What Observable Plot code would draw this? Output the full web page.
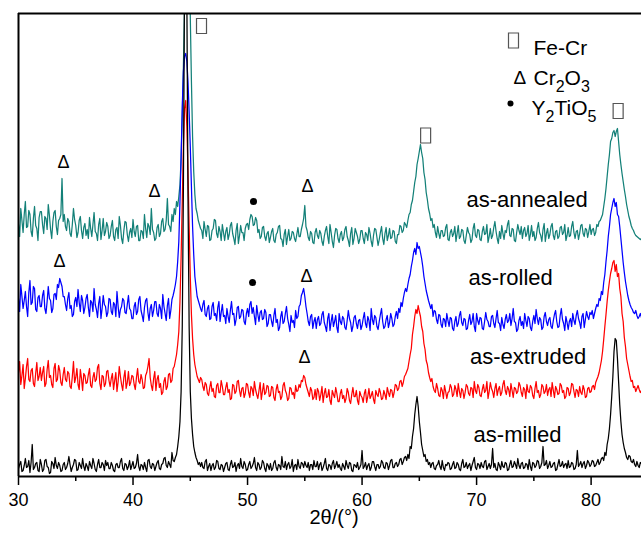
<!DOCTYPE html>
<html><head><meta charset="utf-8">
<script src="https://cdn.jsdelivr.net/npm/d3@7"></script>
<script src="https://cdn.jsdelivr.net/npm/@observablehq/plot@0.6"></script>
<style>body{margin:0;background:#fff}#chart svg{display:block}</style>
</head><body><div id="chart"></div>
<script>
// XRD scan grid (2θ, degrees)
const scanStart = 30, scanStep = 0.1, scanCount = 545;

// intensities (arbitrary units, offset patterns), one value per scan step
const milled = [
8,12,15,5,6,11,18,9,10,16,4,14,32,7,9,13,14,6,5,17,
12,5,7,16,17,10,9,3,4,15,13,8,19,11,8,14,11,5,6,12,
14,7,9,13,20,12,5,9,12,17,16,6,7,14,11,8,18,10,6,13,
10,6,15,11,8,18,13,7,5,12,17,9,9,14,12,6,16,11,14,8,
8,14,11,6,5,12,13,9,9,15,18,8,6,13,12,7,10,16,7,11,
15,8,9,13,22,10,6,12,11,7,14,9,5,16,17,10,8,13,12,6,
10,14,16,8,7,12,13,18,19,11,9,15,12,9,24,16,15,19,22,30,
40,55,85,150,290,500,620,480,280,150,85,58,42,30,24,19,16,12,14,10,
14,9,8,15,17,6,10,13,6,11,13,7,9,16,15,8,7,12,11,5,
9,13,14,7,6,12,16,9,10,14,5,11,13,8,18,10,8,15,12,6,
7,12,15,8,10,13,19,9,6,14,12,7,9,16,14,8,5,13,11,7,
13,6,8,14,16,9,6,12,11,7,20,10,9,15,7,12,14,8,10,17,
5,11,12,7,17,10,8,14,13,9,15,11,9,14,6,12,12,7,16,10,
10,15,7,12,14,6,9,13,18,8,6,12,11,7,13,16,8,11,15,9,
12,8,6,13,10,7,16,11,8,14,13,6,5,12,11,9,14,7,9,12,
26,8,10,14,7,11,13,6,9,15,15,10,6,12,12,8,10,16,14,9,
8,14,13,7,11,16,17,9,9,13,14,10,12,17,18,12,15,19,20,16,
22,18,30,28,40,48,62,72,80,70,55,44,32,26,20,22,15,17,12,14,
9,13,14,8,7,11,12,16,10,7,16,9,6,12,11,14,13,7,8,12,
15,8,9,14,12,7,6,13,17,9,10,14,8,11,13,6,11,15,19,9,
7,13,12,8,14,10,9,15,16,7,10,13,8,12,28,9,13,7,6,14,
11,7,15,10,9,14,13,6,7,12,16,9,10,15,12,8,18,11,8,13,
14,8,9,13,12,7,17,10,6,14,13,9,11,16,15,8,10,14,30,11,
12,16,8,11,15,9,10,13,14,6,7,12,17,10,11,15,9,12,13,8,
16,9,10,14,13,7,8,12,26,10,12,15,9,13,15,8,11,16,14,10,
12,16,15,10,11,14,17,12,14,18,19,16,24,21,32,38,48,62,80,100,
125,138,136,118,95,72,55,42,34,28,24,19,17,21,20,15,14,17,12,10,
15,11,9,14,13];

const extruded = [
104,115,92,101,112,88,98,110,118,97,95,106,108,93,90,103,114,96,100,109,
96,104,110,90,93,107,116,99,101,92,89,108,113,95,97,111,106,94,91,102,
109,97,95,105,103,90,88,100,115,94,99,108,92,87,107,98,86,103,101,93,
94,102,108,91,89,99,104,95,97,109,112,93,87,101,100,90,93,105,106,96,
90,98,103,87,96,104,85,95,110,100,92,86,99,106,88,94,105,91,94,101,
100,92,87,99,108,95,93,102,97,88,89,101,104,110,118,99,91,86,98,105,
86,97,101,89,93,82,84,95,99,87,90,102,103,94,96,108,110,116,122,132,
145,175,220,275,330,368,376,350,305,250,200,162,138,122,112,106,100,97,94,99,
97,90,86,94,92,83,81,89,95,85,88,80,79,91,93,84,84,96,90,82,
82,89,94,84,87,77,78,92,91,83,85,95,96,86,80,88,89,79,83,93,
92,84,79,90,88,81,95,87,82,78,86,94,77,85,93,82,84,91,90,80,
81,90,89,79,76,87,92,84,85,77,80,91,94,86,83,76,78,89,88,82,
84,78,91,85,86,92,89,96,95,101,99,92,88,84,80,89,86,77,79,87,
77,88,85,76,82,90,74,83,88,79,80,87,76,72,86,82,79,89,83,75,
75,83,87,78,81,74,78,88,84,76,73,82,89,80,80,86,76,72,85,81,
79,74,83,87,74,80,88,78,81,85,77,73,86,82,80,88,84,77,78,86,
82,77,89,84,80,87,86,79,84,92,91,86,88,95,96,90,94,100,102,105,
108,115,122,128,142,150,160,167,163,171,165,160,150,145,133,127,116,112,104,99,
95,98,90,86,84,93,88,81,80,89,86,78,91,85,78,84,85,92,89,80,
82,91,87,80,93,85,79,88,86,78,84,92,90,83,81,89,88,79,95,86,
83,92,89,81,80,87,92,84,86,95,78,85,94,88,85,79,88,93,81,87,
90,81,84,92,96,86,82,90,87,80,93,86,79,89,88,83,85,94,91,84,
80,89,87,78,92,85,84,91,89,81,78,88,95,84,86,79,82,92,90,83,
85,92,81,87,89,80,94,86,79,90,87,82,83,93,91,84,86,78,80,89,
88,81,84,93,92,85,79,87,86,80,90,84,82,91,87,79,80,88,89,84,
85,90,91,87,94,97,100,104,110,116,125,137,150,162,175,186,195,203,208,214,
216,205,212,200,203,188,180,163,155,139,130,118,112,106,100,95,96,89,90,85,
88,91,87,84,86];

const rolled = [
178,165,192,180,168,176,185,170,160,184,196,172,174,190,188,167,165,179,181,170,
170,181,186,168,163,175,190,178,176,164,168,182,183,177,192,189,198,194,190,180,
180,172,166,178,184,168,171,160,162,175,179,170,187,174,165,181,176,163,169,178,
182,169,160,176,174,165,188,172,167,159,173,180,158,168,181,172,170,160,164,178,
177,165,162,174,172,160,185,170,159,167,170,178,176,164,163,172,181,168,166,158,
158,170,174,162,165,177,180,166,161,155,169,176,178,164,156,168,172,160,166,175,
175,163,160,172,168,158,182,170,163,156,171,178,158,166,177,181,186,192,200,215,
235,275,320,370,405,420,423,415,395,365,330,290,250,222,200,190,180,176,172,168,
165,172,176,162,160,168,171,157,158,170,174,161,163,156,169,175,155,164,172,160,
161,153,168,160,154,166,175,162,163,151,157,169,170,158,160,167,166,155,152,163,
168,160,172,175,163,169,160,152,171,162,155,164,166,157,158,167,164,150,153,162,
162,155,150,161,168,154,157,146,149,160,165,153,155,163,170,158,152,145,161,154,
156,149,166,158,160,170,172,181,184,188,180,170,163,155,151,160,162,148,155,159,
148,157,160,151,153,162,165,154,150,145,158,163,146,155,162,150,155,161,149,144,
163,155,152,160,158,149,147,156,166,158,154,145,150,159,161,153,148,156,157,147,
151,158,164,153,149,160,156,146,168,157,152,161,159,150,147,155,162,168,155,148,
150,157,161,149,154,163,158,150,152,160,165,158,168,164,174,170,178,184,188,185,
192,198,202,210,216,224,228,222,234,228,230,224,218,210,200,193,186,181,176,172,
168,172,160,166,165,157,153,162,161,152,149,158,157,150,163,156,150,159,158,148,
146,155,160,150,153,161,165,154,151,158,157,147,148,156,162,152,155,163,150,145,
163,156,152,159,158,148,147,155,164,157,155,150,150,160,161,153,149,158,166,154,
153,146,159,152,148,157,162,154,156,163,151,158,168,155,154,145,147,156,160,151,
155,148,163,156,150,160,158,149,146,155,161,153,167,158,152,159,157,147,149,160,
164,155,151,157,159,150,148,156,162,166,155,149,150,161,168,157,153,146,160,154,
147,155,158,150,163,156,152,161,166,158,154,148,160,163,149,157,165,160,157,164,
162,166,158,163,168,172,170,178,176,185,182,194,202,215,226,240,250,262,268,274,
278,270,274,262,260,250,238,226,214,204,195,188,181,176,172,169,167,164,163,166,
161,158,160,163,159];

const annealed = [
252,240,268,256,244,262,275,249,250,266,262,245,240,258,270,251,248,236,259,265,
265,252,243,260,258,247,272,261,247,238,255,264,266,250,242,256,258,262,298,255,
262,250,246,258,255,243,240,252,268,257,251,239,244,256,260,246,238,249,253,241,
247,238,259,248,240,252,264,245,243,236,252,258,237,246,258,241,245,254,250,238,
241,250,256,240,236,247,249,238,260,251,238,233,246,255,254,242,235,244,248,239,
257,245,240,250,251,236,236,246,245,238,262,248,239,253,250,242,268,247,244,236,
238,249,252,240,243,255,258,245,247,256,278,252,250,245,262,255,268,262,275,270,
280,292,318,360,410,470,520,560,570,530,460,395,340,305,282,268,263,256,252,248,
246,238,255,247,240,251,250,236,237,246,248,257,256,243,239,250,245,236,252,244,
236,245,249,237,242,251,254,243,238,232,246,253,233,241,251,244,244,236,248,252,
253,247,257,262,260,251,252,259,256,244,247,238,240,249,250,240,236,243,245,234,
239,245,248,236,234,242,244,250,251,238,237,230,242,247,232,240,247,236,238,245,
244,238,235,242,249,240,240,247,252,258,271,250,246,239,236,245,243,234,233,244,
248,241,238,246,243,235,231,240,246,250,240,233,252,244,235,229,241,248,247,238,
234,242,245,236,239,247,250,240,236,230,243,249,232,238,248,244,240,233,237,246,
246,238,233,244,242,236,249,243,235,230,241,248,247,239,231,237,244,250,238,232,
243,249,236,241,248,238,239,246,245,235,233,242,242,251,250,244,246,254,252,249,
256,262,264,272,276,285,294,300,312,318,325,332,324,318,304,297,284,277,268,263,
256,258,249,252,244,239,250,243,238,246,246,240,241,249,252,237,236,244,247,240,
243,250,235,243,251,238,240,247,246,236,233,241,249,244,242,234,237,248,253,241,
239,247,246,237,236,245,250,242,243,252,234,240,248,238,241,249,255,245,238,233,
245,238,251,243,237,246,244,252,256,241,240,248,247,236,235,244,252,246,242,250,
238,246,249,240,243,251,236,242,251,240,245,236,239,248,254,244,241,235,247,253,
235,243,248,238,242,250,253,241,237,245,246,238,240,249,250,242,244,252,236,241,
249,240,241,250,255,244,238,245,246,237,243,251,252,243,240,248,247,239,245,252,
242,247,248,241,244,252,250,255,256,259,262,270,278,288,300,312,322,335,338,344,
346,340,345,348,335,322,312,303,295,287,280,272,266,260,256,251,248,246,243,241,
240,239,238,237,238];

const seriesNames = ["as-annealed", "as-rolled", "as-extruded", "as-milled"];
const seriesColors = ["#138078", "#0000ff", "#ff0000", "#000000"];
const seriesValues = [annealed, rolled, extruded, milled];
const labelX = [74.41, 72.97, 74.5, 73.58];
const labelY = [276.5, 199, 120, 41.5];

// phase markers (2θ, intensity level)
const feCrX = [45.98, 65.55, 82.36];
const feCrY = [450.5, 341, 365.5];
const cr2o3X = [33.93, 41.88, 55.24, 33.58, 55.15, 54.98];
const cr2o3Y = [314, 285, 290, 215, 200, 119];
const y2tio5X = [50.52, 50.44];
const y2tio5Y = [275, 194];

const legendNames = ["Fe-Cr", "Cr2O3", "Y2TiO5"];
const xTicks = [30, 40, 50, 60, 70, 80];
const xMinorTicks = [35, 45, 55, 65, 75];
const xLabel = "2θ/(°)";

seriesValues.forEach((v, i) => { if (v.length !== scanCount) throw new Error(seriesNames[i] + " has " + v.length); });

const rows = seriesValues.flatMap((vals, s) =>
  vals.map((v, i) => ({series: seriesNames[s], x: +(scanStart + scanStep * i).toFixed(1), y: v})));
const labels = seriesNames.map((n, i) => ({name: n, x: labelX[i], y: labelY[i]}));
const feCr = feCrX.map((x, i) => ({x, y: feCrY[i]}));
const cr2o3 = cr2o3X.map((x, i) => ({x, y: cr2o3Y[i]}));
const y2tio5 = y2tio5X.map((x, i) => ({x, y: y2tio5Y[i]}));

const boxSymbol = {draw(ctx) { ctx.moveTo(-5, -7.5); ctx.lineTo(5, -7.5); ctx.lineTo(5, 7.5); ctx.lineTo(-5, 7.5); ctx.closePath(); }};
const font = "Liberation Sans, Arial, Helvetica, sans-serif";

const chart = Plot.plot({
  width: 641, height: 534,
  marginLeft: 18, marginRight: 0, marginTop: 13, marginBottom: 58,
  style: {fontFamily: font, fontSize: "18px", color: "black", background: "white"},
  x: {domain: [30, 84.4], label: null},
  y: {domain: [0, 463], axis: null, label: null},
  color: {domain: seriesNames, range: seriesColors},
  marks: [
    Plot.line(rows, {x: "x", y: "y", z: "series", stroke: "series", strokeWidth: 1.25, clip: true}),
    Plot.dot(feCr, {x: "x", y: "y", symbol: boxSymbol, r: 5, fill: "white", stroke: "#555", strokeWidth: 1.2}),
    Plot.text(cr2o3, {x: "x", y: "y", text: () => "Δ", fontSize: 18, fill: "black"}),
    Plot.dot(y2tio5, {x: "x", y: "y", r: 3.5, fill: "black"}),
    Plot.text(labels, {x: "x", y: "y", text: "name", fontSize: 22, fill: "black"}),
    // legend
    Plot.dot([0], {frameAnchor: "top-left", dx: 495, dy: 27, symbol: boxSymbol, r: 5, fill: "white", stroke: "#555", strokeWidth: 1.2}),
    Plot.text([0], {frameAnchor: "top-left", dx: 495, dy: 57, text: () => "Δ", fontSize: 19, fill: "black"}),
    Plot.dot([0], {frameAnchor: "top-left", dx: 492, dy: 90, r: 3, fill: "black"}),
    Plot.text([legendNames[0]], {frameAnchor: "top-left", dx: 515, dy: 27, textAnchor: "start", fontSize: 21, fill: "black"}),
    Plot.text([legendNames[1]], {frameAnchor: "top-left", dx: 515, dy: 57, textAnchor: "start", fontSize: 21, fill: "black"}),
    Plot.text([legendNames[2]], {frameAnchor: "top-left", dx: 513, dy: 87, textAnchor: "start", fontSize: 21, fill: "black"}),
    // frame
    Plot.ruleY([463], {stroke: "black", strokeWidth: 2}),
    Plot.ruleX([30], {stroke: "black", strokeWidth: 2}),
    Plot.ruleY([0], {stroke: "black", strokeWidth: 2}),
    Plot.axisX(xTicks, {tickSize: 9, tickPadding: 8, strokeWidth: 1.5, fontSize: 18, label: null}),
    Plot.axisX(xMinorTicks, {tickSize: 5, tickFormat: () => "", strokeWidth: 1.5, label: null}),
    Plot.text([xLabel], {frameAnchor: "bottom", dx: 4, dy: 47, fontSize: 20, fill: "black"})
  ]
});
document.getElementById("chart").appendChild(chart);

// subscripts in legend formulas
const subs = {"Cr2O3": [["Cr", 0], ["2", 1], ["O", 0], ["3", 1]], "Y2TiO5": [["Y", 0], ["2", 1], ["TiO", 0], ["5", 1]]};
chart.querySelectorAll("text").forEach(t => {
  const parts = subs[t.textContent];
  if (!parts) return;
  const sel = d3.select(t); sel.text("");
  let prev = 0;
  parts.forEach(([s, sub]) => {
    const off = sub ? 7 : 0;
    sel.append("tspan").attr("dy", off - prev).attr("font-size", sub ? 16 : 21).text(s);
    prev = off;
  });
});
</script></body></html>
